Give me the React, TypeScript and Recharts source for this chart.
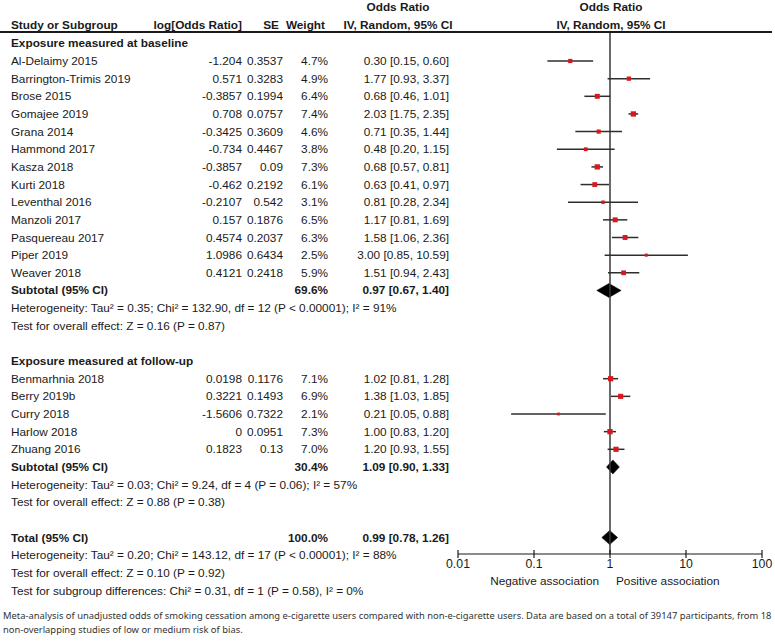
import React from "react";
import { ComposedChart, XAxis, YAxis, Scatter, Area, ErrorBar, ReferenceLine } from "recharts";

// ---- data ----
const baselineStudies = [
  "Al-Delaimy 2015",
  "Barrington-Trimis 2019",
  "Brose 2015",
  "Gomajee 2019",
  "Grana 2014",
  "Hammond 2017",
  "Kasza 2018",
  "Kurti 2018",
  "Leventhal 2016",
  "Manzoli 2017",
  "Pasquereau 2017",
  "Piper 2019",
  "Weaver 2018",
];
const baselineLogOR = [-1.204, 0.571, -0.3857, 0.708, -0.3425, -0.734, -0.3857, -0.462, -0.2107, 0.157, 0.4574, 1.0986, 0.4121];
const baselineSE = [0.3537, 0.3283, 0.1994, 0.0757, 0.3609, 0.4467, 0.09, 0.2192, 0.542, 0.1876, 0.2037, 0.6434, 0.2418];
const baselineWeight = [4.7, 4.9, 6.4, 7.4, 4.6, 3.8, 7.3, 6.1, 3.1, 6.5, 6.3, 2.5, 5.9];
const baselineOR = [0.3, 1.77, 0.68, 2.03, 0.71, 0.48, 0.68, 0.63, 0.81, 1.17, 1.58, 3.0, 1.51];
const baselineLow = [0.15, 0.93, 0.46, 1.75, 0.35, 0.2, 0.57, 0.41, 0.28, 0.81, 1.06, 0.85, 0.94];
const baselineHigh = [0.6, 3.37, 1.01, 2.35, 1.44, 1.15, 0.81, 0.97, 2.34, 1.69, 2.36, 10.59, 2.43];

const followupStudies = ["Benmarhnia 2018", "Berry 2019b", "Curry 2018", "Harlow 2018", "Zhuang 2016"];
const followupLogOR = [0.0198, 0.3221, -1.5606, 0, 0.1823];
const followupSE = [0.1176, 0.1493, 0.7322, 0.0951, 0.13];
const followupWeight = [7.1, 6.9, 2.1, 7.3, 7.0];
const followupOR = [1.02, 1.38, 0.21, 1.0, 1.2];
const followupLow = [0.81, 1.03, 0.05, 0.83, 0.93];
const followupHigh = [1.28, 1.85, 0.88, 1.2, 1.55];

const pooledLabels = ["Subtotal (95% CI)", "Subtotal (95% CI)", "Total (95% CI)"];
const pooledWeight = [69.6, 30.4, 100.0];
const pooledOR = [0.97, 1.09, 0.99];
const pooledLow = [0.67, 0.9, 0.78];
const pooledHigh = [1.4, 1.33, 1.26];

const sectionLabels = ["Exposure measured at baseline", "Exposure measured at follow-up"];
const statLines = [
  "Heterogeneity: Tau² = 0.35; Chi² = 132.90, df = 12 (P < 0.00001); I² = 91%",
  "Test for overall effect: Z = 0.16 (P = 0.87)",
  "Heterogeneity: Tau² = 0.03; Chi² = 9.24, df = 4 (P = 0.06); I² = 57%",
  "Test for overall effect: Z = 0.88 (P = 0.38)",
  "Heterogeneity: Tau² = 0.20; Chi² = 143.12, df = 17 (P < 0.00001); I² = 88%",
  "Test for overall effect: Z = 0.10 (P = 0.92)",
  "Test for subgroup differences: Chi² = 0.31, df = 1 (P = 0.58), I² = 0%",
];
const xTicks = [0.01, 0.1, 1, 10, 100];
const caption = [
  "Meta-analysis of unadjusted odds of smoking cessation among e-cigarette users compared with non-e-cigarette users. Data are based on a total of 39147 participants, from 18",
  "non-overlapping studies of low or medium risk of bias.",
];

// ---- row layout ----
const sectionRows = [-1, 17];
const baselineRows = baselineStudies.map((_, i) => i);
const followupRows = followupStudies.map((_, i) => 18 + i);
const pooledRows = [13, 23, 27];
const statRows = [14, 15, 24, 25, 28, 29, 30];

const W = 775;
const H = 642;
const ROW_TOP = 61;
const ROW_H = 17.65;
const PLOT_TOP = 32;
const AXIS_Y = 554;
const PLOT_LEFT = 458;
const PLOT_RIGHT = 762;
const DIAMOND_HALF = 0.4;
const FONT = '"Liberation Sans", Arial, Helvetica, sans-serif';
const FS = 11.8;
const INK = "#1a1a1a";

const rowY = (r: number) => ROW_TOP + r * ROW_H;
const fmtCI = (or: number, lo: number, hi: number) => `${or.toFixed(2)} [${lo.toFixed(2)}, ${hi.toFixed(2)}]`;

const studyPoints = [
  ...baselineOR.map((or, i) => ({
    x: or,
    y: baselineRows[i],
    w: baselineWeight[i],
    err: [or - baselineLow[i], baselineHigh[i] - or],
  })),
  ...followupOR.map((or, i) => ({
    x: or,
    y: followupRows[i],
    w: followupWeight[i],
    err: [or - followupLow[i], followupHigh[i] - or],
  })),
];

// diamonds drawn as ranged areas: [low, high] on the row axis along the odds-ratio axis
const diamondData = pooledOR.flatMap((or, i) => {
  const r = pooledRows[i];
  return [
    { x: pooledLow[i], ["d" + i]: [r, r] },
    { x: or, ["d" + i]: [r - DIAMOND_HALF, r + DIAMOND_HALF] },
    { x: pooledHigh[i], ["d" + i]: [r, r] },
  ];
});

const Box = (props: any) => {
  const { cx, cy, payload } = props;
  if (cx == null || cy == null) return null;
  const s = 1.95 * Math.sqrt(payload.w);
  return <rect x={cx - s / 2} y={cy - s / 2} width={s} height={s} fill="#d9181e" />;
};

const AxisTick = (props: any) => {
  const { x, y, payload } = props;
  const axisY = y - 5;
  return (
    <g>
      <line x1={x} x2={x} y1={axisY - 4} y2={axisY + 4} stroke={INK} strokeWidth={1.2} />
      <text x={x} y={y} dy="0.71em" textAnchor="middle" fill={INK} fontSize={FS + 0.5} fontFamily={FONT}>
        {String(payload.value)}
      </text>
    </g>
  );
};

function T({
  x,
  y,
  align = "left",
  bold = false,
  children,
}: {
  x: number;
  y: number;
  align?: "left" | "right" | "center";
  bold?: boolean;
  children: React.ReactNode;
}) {
  const style: React.CSSProperties = {
    position: "absolute",
    top: y - 8,
    lineHeight: "16px",
    height: 16,
    whiteSpace: "nowrap",
    fontWeight: bold ? 700 : 400,
  };
  if (align === "left") style.left = x;
  else if (align === "right") style.right = W - x;
  else {
    style.left = x - 150;
    style.width = 300;
    style.textAlign = "center";
  }
  return <div style={style}>{children}</div>;
}

export default function App() {
  const COL_NAME = 11;
  const COL_LOG = 242;
  const COL_SE = 283;
  const COL_W = 328;
  const COL_OR = 449;
  const COL_OR_HEAD = 398;
  const COL_PLOT_HEAD = 611;

  const studyRow = (
    name: string,
    r: number,
    lg: number,
    se: number,
    w: number,
    or: number,
    lo: number,
    hi: number
  ) => (
    <React.Fragment key={name}>
      <T x={COL_NAME} y={rowY(r)}>{name}</T>
      <T x={COL_LOG} y={rowY(r)} align="right">{String(lg)}</T>
      <T x={COL_SE} y={rowY(r)} align="right">{String(se)}</T>
      <T x={COL_W} y={rowY(r)} align="right">{w.toFixed(1) + "%"}</T>
      <T x={COL_OR} y={rowY(r)} align="right">{fmtCI(or, lo, hi)}</T>
    </React.Fragment>
  );

  return (
    <div
      style={{
        position: "absolute",
        left: 0,
        top: 0,
        width: W,
        height: H,
        background: "#fff",
        fontFamily: FONT,
        fontSize: FS,
        color: INK,
        overflow: "hidden",
      }}
    >
      <ComposedChart
        width={W}
        height={H}
        data={diamondData}
        margin={{ top: PLOT_TOP, right: W - PLOT_RIGHT, bottom: H - AXIS_Y - 30, left: PLOT_LEFT }}
      >
        <XAxis
          type="number"
          dataKey="x"
          scale="log"
          domain={[0.01, 100]}
          ticks={xTicks}
          allowDataOverflow
          interval={0}
          height={30}
          stroke={INK}
          strokeWidth={1.2}
          tickLine={false}
          tickSize={4}
          tickMargin={1}
          tick={<AxisTick />}
        />
        <YAxis
          type="number"
          dataKey="y"
          hide
          reversed
          allowDataOverflow
          domain={[(PLOT_TOP - ROW_TOP) / ROW_H, (AXIS_Y - ROW_TOP) / ROW_H]}
        />
        <ReferenceLine x={1} stroke="#3a3a3a" strokeWidth={1.5} />
        {pooledOR.map((_, i) => (
          <Area
            key={"d" + i}
            dataKey={"d" + i}
            type="linear"
            fill="#000"
            fillOpacity={1}
            stroke="#000"
            strokeWidth={0.5}
            dot={false}
            activeDot={false}
            connectNulls={false}
            isAnimationActive={false}
          />
        ))}
        <Scatter data={studyPoints} shape={<Box />} isAnimationActive={false}>
          <ErrorBar
            dataKey="err"
            direction="x"
            width={0}
            stroke="#2e2e2e"
            strokeWidth={1.5}
            isAnimationActive={false}
          />
        </Scatter>
      </ComposedChart>

      {/* header */}
      <T x={COL_OR_HEAD} y={7} align="center" bold>Odds Ratio</T>
      <T x={COL_PLOT_HEAD} y={7} align="center" bold>Odds Ratio</T>
      <T x={COL_NAME} y={25} bold>Study or Subgroup</T>
      <T x={242} y={25} align="right" bold>log[Odds Ratio]</T>
      <T x={279} y={25} align="right" bold>SE</T>
      <T x={325} y={25} align="right" bold>Weight</T>
      <T x={COL_OR_HEAD} y={25} align="center" bold>IV, Random, 95% CI</T>
      <T x={COL_PLOT_HEAD} y={25} align="center" bold>IV, Random, 95% CI</T>
      <div style={{ position: "absolute", left: 0, top: 31, width: W - 3, height: 1.5, background: INK }} />

      {sectionLabels.map((s, i) => (
        <T key={s} x={COL_NAME} y={rowY(sectionRows[i])} bold>{s}</T>
      ))}

      {baselineStudies.map((name, i) =>
        studyRow(name, baselineRows[i], baselineLogOR[i], baselineSE[i], baselineWeight[i], baselineOR[i], baselineLow[i], baselineHigh[i])
      )}
      {followupStudies.map((name, i) =>
        studyRow(name, followupRows[i], followupLogOR[i], followupSE[i], followupWeight[i], followupOR[i], followupLow[i], followupHigh[i])
      )}

      {pooledLabels.map((label, i) => (
        <React.Fragment key={"p" + i}>
          <T x={COL_NAME} y={rowY(pooledRows[i])} bold>{label}</T>
          <T x={COL_W} y={rowY(pooledRows[i])} align="right" bold>{pooledWeight[i].toFixed(1) + "%"}</T>
          <T x={COL_OR} y={rowY(pooledRows[i])} align="right" bold>{fmtCI(pooledOR[i], pooledLow[i], pooledHigh[i])}</T>
        </React.Fragment>
      ))}

      {statLines.map((s, i) => (
        <T key={"s" + i} x={COL_NAME} y={rowY(statRows[i])}>{s}</T>
      ))}

      <T x={599} y={581} align="right">Negative association</T>
      <T x={616} y={581}>Positive association</T>

      <div
        style={{
          position: "absolute",
          left: 3,
          top: 609,
          fontFamily: '"Noto Sans", "Open Sans", sans-serif',
          fontSize: 9.4,
          lineHeight: "14px",
          color: "#333",
          whiteSpace: "nowrap",
        }}
      >
        {caption.map((c) => (
          <div key={c}>{c}</div>
        ))}
      </div>
    </div>
  );
}
